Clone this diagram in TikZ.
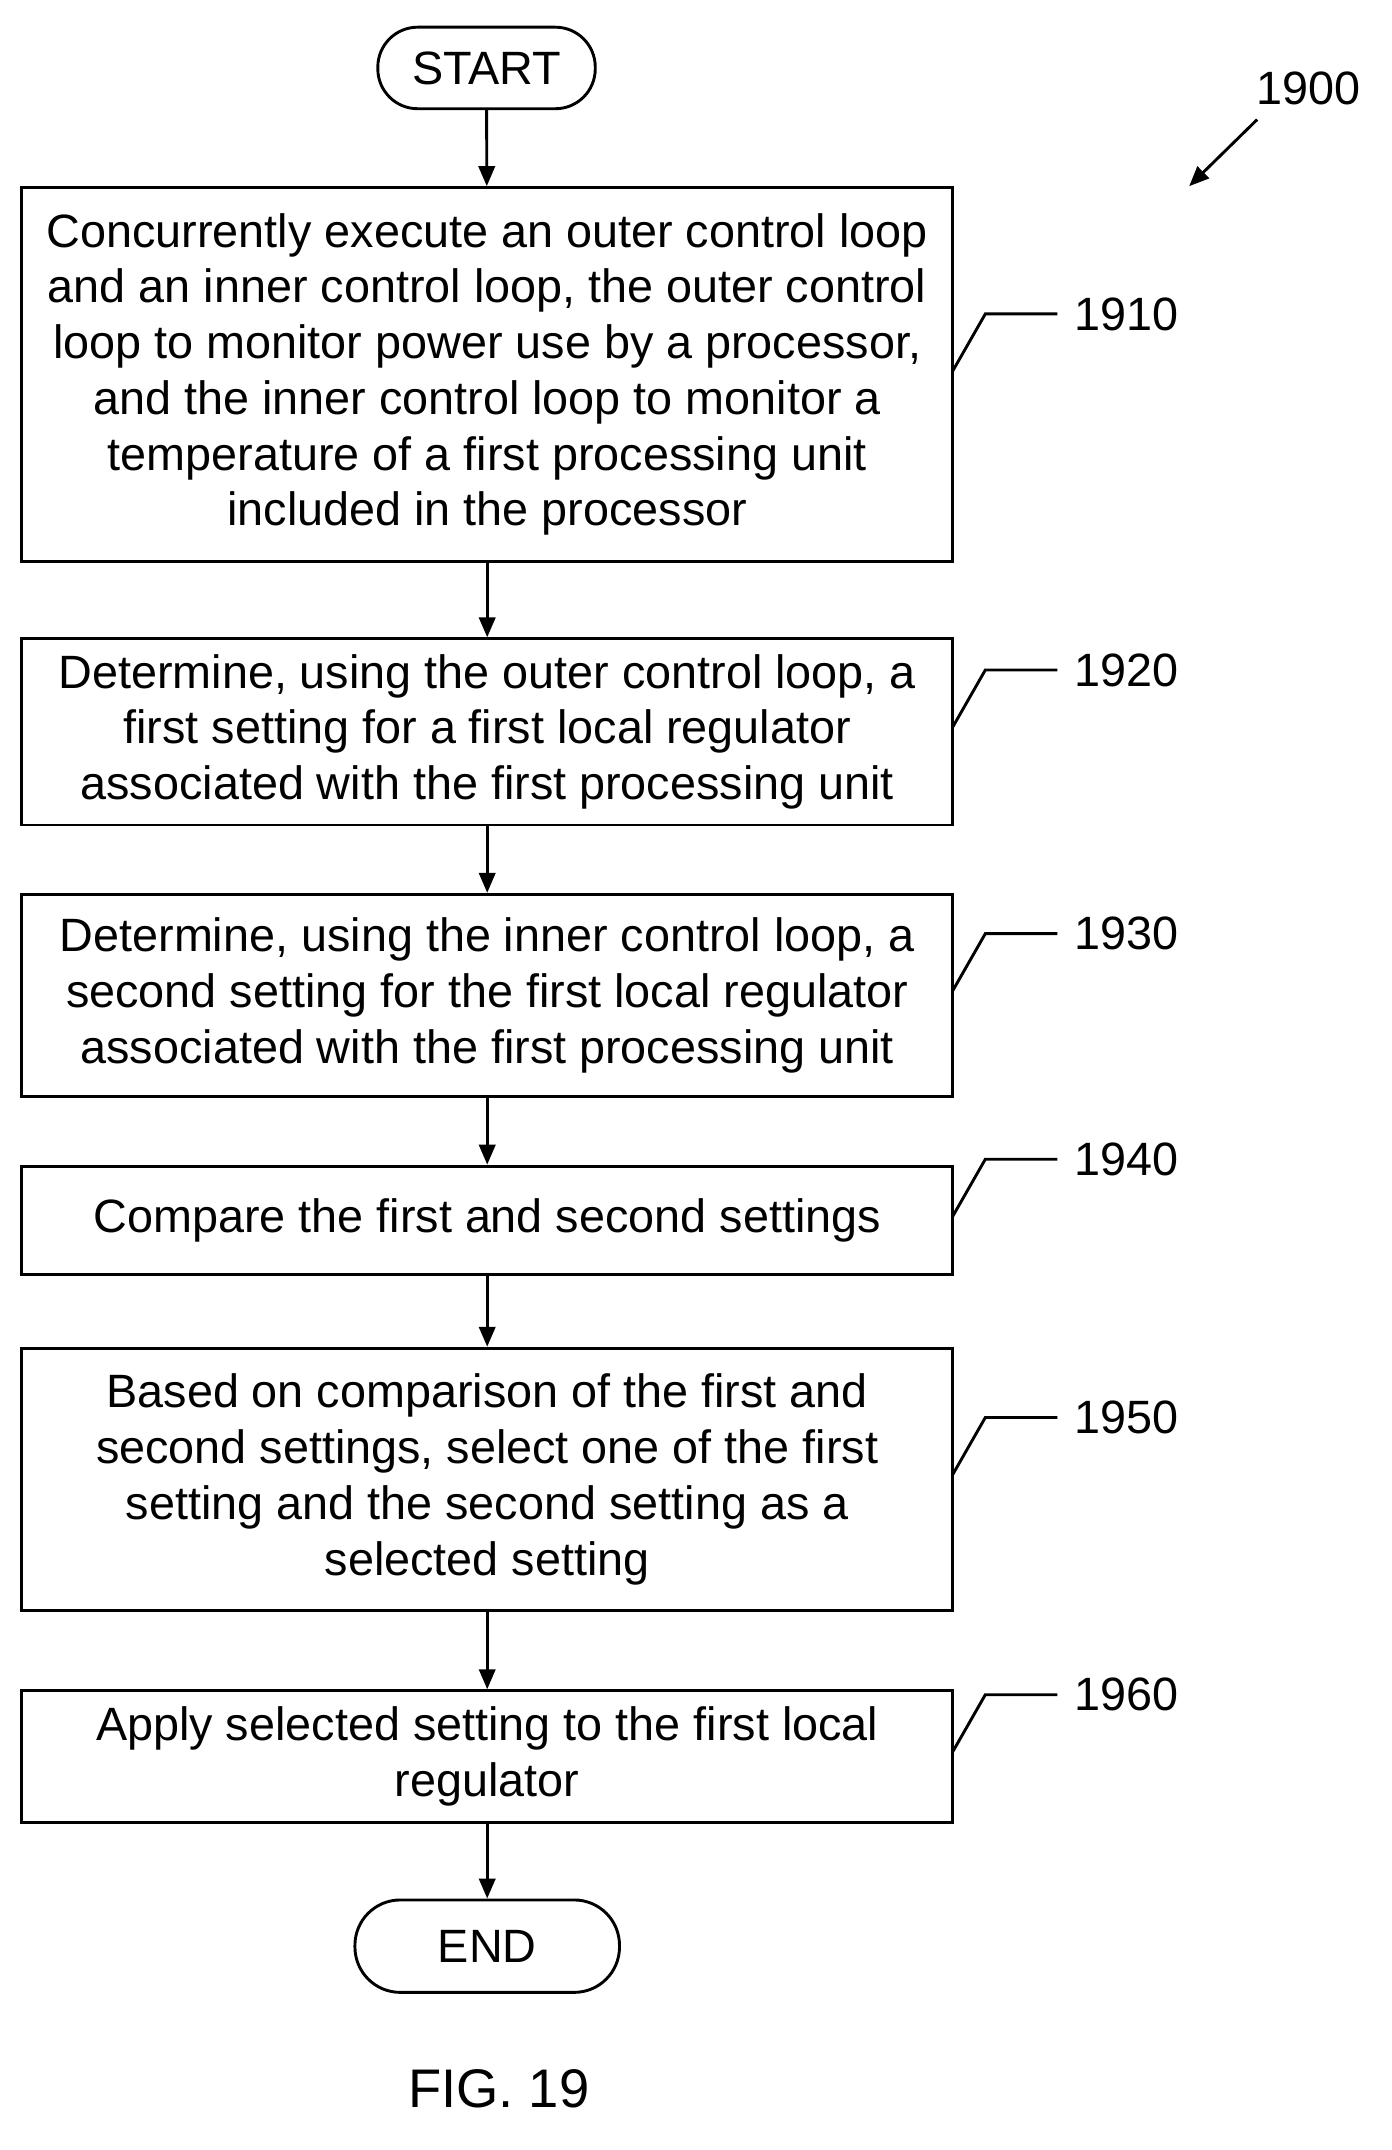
\documentclass[tikz,border=0pt]{standalone}
\usepackage{fontspec}
\setmainfont{Liberation Sans}
\usetikzlibrary{arrows.meta}
\begin{document}
\begin{tikzpicture}[x=0.75pt,y=-0.75pt,
 box/.style={draw,line width=1.6pt,align=center,inner sep=0pt},
 term/.style={draw,line width=1.6pt,rounded corners=22pt,inner sep=0pt},
 arr/.style={line width=1.6pt,-{Triangle[length=11pt,width=9pt]}},
 lead/.style={line width=1.6pt},
 txt/.style={font=\fontsize{25.8}{30.75}\selectfont}]
\useasboundingbox (0,0) rectangle (1024,1582);
\node[term,txt,minimum width=120pt,minimum height=45pt] (s) at (358,50) {START};
\node[box,txt,minimum width=513.75pt,minimum height=206.25pt] (b1) at (358.5,275.5) {Concurrently execute an outer control loop\\and an inner control loop, the outer control\\loop to monitor power use by a processor,\\and the inner control loop to monitor a\\temperature of a first processing unit\\included in the processor};
\node[box,txt,minimum width=513.75pt,minimum height=102.75pt] (b2) at (358.5,538.5) {Determine, using the outer control loop, a\\first setting for a first local regulator\\associated with the first processing unit};
\node[box,txt,minimum width=513.75pt,minimum height=111.75pt] (b3) at (358.5,732.5) {Determine, using the inner control loop, a\\second setting for the first local regulator\\associated with the first processing unit};
\node[box,txt,minimum width=513.75pt,minimum height=60pt] (b4) at (358.5,898) {Compare the first and second settings};
\node[box,txt,minimum width=513.75pt,minimum height=144.75pt] (b5) at (358.5,1088.5) {Based on comparison of the first and\\second settings, select one of the first\\setting and the second setting as a\\selected setting};
\node[box,txt,minimum width=513.75pt,minimum height=72.75pt] (b6) at (358.5,1292.5) {Apply selected setting to the first local\\regulator};
\node[term,txt,minimum width=146pt,minimum height=51pt,rounded corners=25pt] (e) at (358.5,1432) {END};
\draw[arr] (s) -- (b1);
\draw[arr] (b1) -- (b2);
\draw[arr] (b2) -- (b3);
\draw[arr] (b3) -- (b4);
\draw[arr] (b4) -- (b5);
\draw[arr] (b5) -- (b6);
\draw[arr] (b6) -- (e);
\foreach \n/\y/\t in {b1/231/1910,b2/493/1920,b3/687/1930,b4/853/1940,b5/1043/1950,b6/1247/1960}{
 \coordinate (k\t) at (778,\y);
 \node[txt,anchor=west] (l\t) at (786,\y) {\t};
 \draw[lead] (701,\y+42) -- (725,\y) -- (k\t);
}
\node[txt] (n1900) at (963,65) {1900};
\coordinate (a1) at (925,88);
\coordinate (a2) at (875,137);
\draw[arr] (a1) -- (a2);
\node[font=\fontsize{30}{36}\selectfont] (fig) at (367,1537) {FIG. 19};
\end{tikzpicture}
\end{document}
